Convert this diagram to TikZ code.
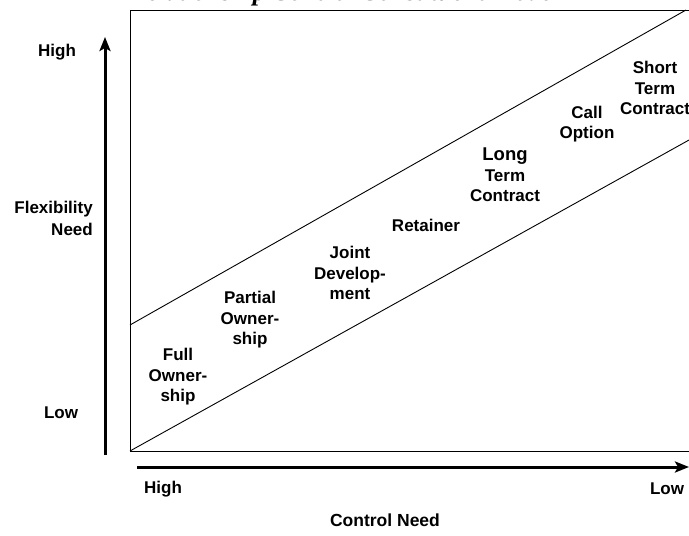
\documentclass[tikz,border=0pt]{standalone}
\usepackage{fontspec}
\setmainfont{Liberation Sans}
\newfontfamily\titlefont{Liberation Serif}
\usetikzlibrary{arrows.meta}
\begin{document}
\begin{tikzpicture}[x=1pt,y=-1pt,
  lbl/.style={font=\bfseries\fontsize{17}{20.5}\selectfont, align=center, inner sep=0pt},
  axl/.style={font=\bfseries\fontsize{17}{19}\selectfont, inner sep=0pt},
  axisarrow/.style={line width=3pt, -{Stealth[length=14pt,width=11pt,inset=3pt]}},
  frame/.style={line width=0.9pt},
  diag/.style={line width=0.9pt}]
\useasboundingbox (0,0) rectangle (689,536);
% clipped title
\node[font=\titlefont\bfseries\itshape\fontsize{26}{28}\selectfont, anchor=base, inner sep=0pt] (title) at (345,0.8) {Relationship Control Constituent Model};
% frame
\coordinate (ftr) at (700,10);
\coordinate (ftl) at (130,10);
\coordinate (fbl) at (130,451);
\coordinate (fbr) at (700,451);
\draw[frame] (ftr) -- (ftl) -- (fbl) -- (fbr);
% diagonals
\coordinate (lowS) at (130,451);
\coordinate (lowE) at (700,133.9);
\coordinate (upS) at (130,325);
\coordinate (upE) at (686,10);
\draw[diag] (lowS) -- (lowE);
\draw[diag] (upS) -- (upE);
% axes
\coordinate (yA) at (105,455);
\coordinate (yB) at (105,37);
\coordinate (xA) at (137,467);
\coordinate (xB) at (689,467);
\draw[axisarrow] (yA) -- (yB);
\draw[axisarrow] (xA) -- (xB);
% axis labels
\node[axl] (yhigh) at (57,52) {High};
\node[axl, align=right, anchor=east, font=\bfseries\fontsize{17}{22}\selectfont] (yname) at (93,218) {Flexibility\\Need};
\node[axl] (ylow) at (61,413) {Low};
\node[axl] (xhigh) at (163,489) {High};
\node[axl] (xlow) at (667,489) {Low};
\node[axl, font=\bfseries\fontsize{17.5}{19}\selectfont] (xname) at (385,520) {Control Need};
% items
\node[lbl] (full) at (178,377) {Full\\Owner-\\ship};
\node[lbl] (partial) at (250,320) {Partial\\Owner-\\ship};
\node[lbl] (joint) at (350,273) {Joint\\Develop-\\ment};
\node[lbl] (retainer) at (426,225) {Retainer};
\node[lbl] (long) at (505,175) {{\fontsize{18.5}{20.5}\selectfont Long}\\Term\\Contract};
\node[lbl] (call) at (587,124) {Call\\Option};
\node[lbl] (short) at (655,88) {Short\\Term\\Contract};
\end{tikzpicture}
\end{document}
